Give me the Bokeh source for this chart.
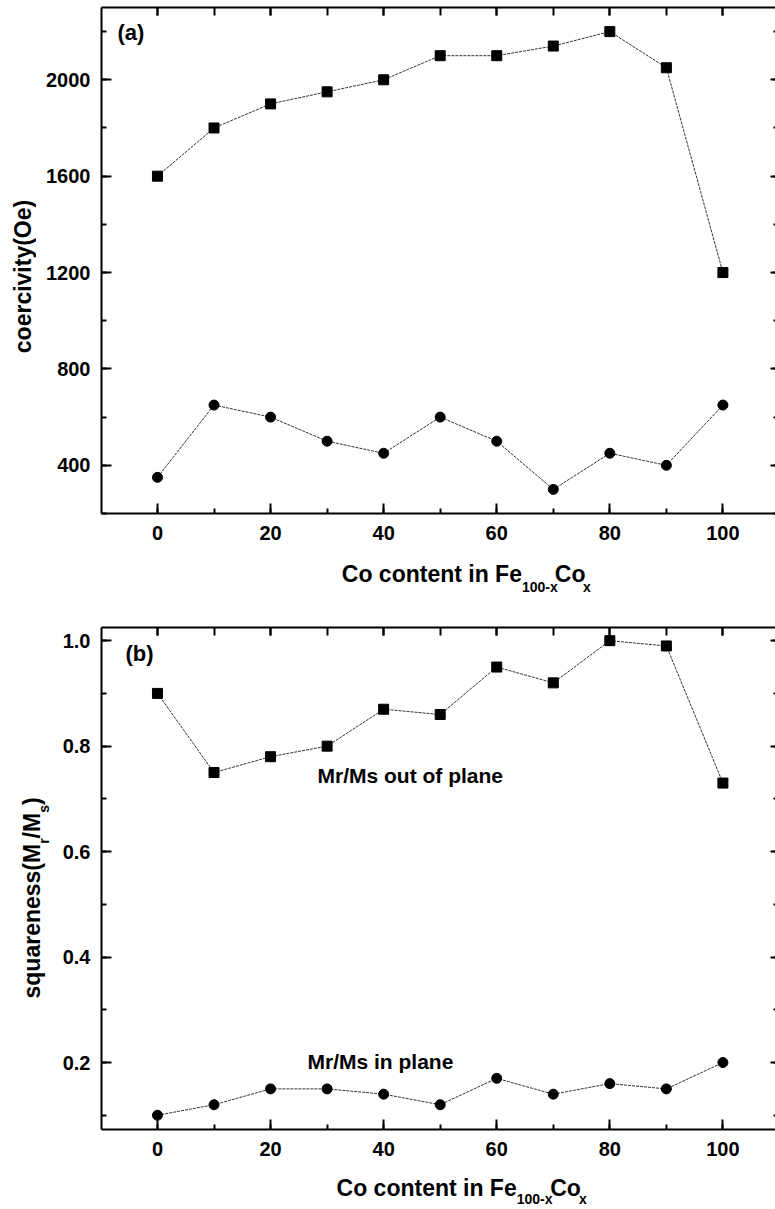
import math
from bokeh.plotting import figure
from bokeh.layouts import column, row
from bokeh.models import (LinearAxis, SingleIntervalTicker, Label, NumeralTickFormatter,
                          CustomJSTickFormatter, Range1d)
from bokeh.embed import file_html
from bokeh.resources import INLINE

# ---------------- data ----------------
co_content = [0, 10, 20, 30, 40, 50, 60, 70, 80, 90, 100]
coercivity_out = [1600, 1800, 1900, 1950, 2000, 2100, 2100, 2140, 2200, 2050, 1200]
coercivity_in = [350, 650, 600, 500, 450, 600, 500, 300, 450, 400, 650]
squareness_out = [0.90, 0.75, 0.78, 0.80, 0.87, 0.86, 0.95, 0.92, 1.00, 0.99, 0.73]
squareness_in = [0.10, 0.12, 0.15, 0.15, 0.14, 0.12, 0.17, 0.14, 0.16, 0.15, 0.20]

FONT = "Liberation Sans"
W = 775
X0, X1 = -9.9, 109.3
FL, FR = 101, 775  # frame left/right on the page (px)
MID = 0.35         # distance baseline -> text middle, in em


def px_to_x(px):
    return X0 + (px - FL) / (FR - FL) * (X1 - X0)


def style_axes(p, y_interval, fmt=None):
    p.xgrid.visible = False
    p.ygrid.visible = False
    p.outline_line_color = None
    p.background_fill_color = "white"
    p.border_fill_color = "white"
    xt = SingleIntervalTicker(interval=20, num_minor_ticks=2)
    yt = SingleIntervalTicker(interval=y_interval, num_minor_ticks=2)
    for ax in p.xaxis:
        ax.ticker = xt
    for ax in p.yaxis:
        ax.ticker = yt
        if fmt is not None:
            ax.formatter = fmt
    for ax in list(p.xaxis) + list(p.yaxis):
        ax.axis_line_width = 2
        ax.major_tick_line_width = 2
        ax.minor_tick_line_width = 2
        ax.major_tick_in = 10
        ax.major_tick_out = 0
        ax.minor_tick_in = 5
        ax.minor_tick_out = 0
        ax.major_label_text_font = FONT
        ax.major_label_text_font_style = "bold"
        ax.major_label_text_font_size = "20px"
        ax.major_label_text_color = "black"
    p.xaxis.major_label_standoff = 12
    p.yaxis.major_label_standoff = 11

    blank = CustomJSTickFormatter(code="return ''")
    top = LinearAxis(ticker=xt, formatter=blank, axis_line_width=2,
                     major_tick_line_width=2, minor_tick_line_width=2,
                     major_tick_in=8, major_tick_out=0, minor_tick_in=8, minor_tick_out=0,
                     major_label_standoff=0, major_label_text_font_size="1px")
    right = LinearAxis(ticker=yt, formatter=blank, axis_line_alpha=0,
                       major_tick_line_width=2, minor_tick_line_width=2,
                       major_tick_in=5, major_tick_out=0, minor_tick_in=2, minor_tick_out=0,
                       major_label_standoff=0, major_label_text_font_size="1px")
    p.add_layout(top, "above")
    p.add_layout(right, "right")


def add_label(p, x, y, text, size, angle=0.0, align="left"):
    p.add_layout(Label(x=x, y=y, text=text, angle=angle,
                       text_align=align, text_baseline="middle", text_font=FONT,
                       text_font_style="bold", text_font_size=f"{size}px",
                       text_color="black"))


def text_panel(w, h):
    """A blank figure whose frame is the whole canvas; data units = pixels (y up)."""
    f = figure(width=w, height=h, output_backend="svg", toolbar_location=None,
               x_range=Range1d(0, w), y_range=Range1d(0, h),
               x_axis_location=None, y_axis_location=None,
               min_border=0, min_border_left=0, min_border_right=0,
               min_border_top=0, min_border_bottom=0)
    f.xgrid.visible = False
    f.ygrid.visible = False
    f.outline_line_color = None
    f.background_fill_color = "white"
    f.border_fill_color = "white"
    return f


def x_label_panel(w, h, x_off, base_local, sub_local):
    """'Co content in Fe_{100-x}Co_x'; base/sub are baselines in local px from the top."""
    f = text_panel(w, h)
    yb = h - (base_local - MID * 23)
    ys = h - (sub_local - MID * 14)
    add_label(f, 497 - x_off, yb, "Co content in Fe", 23, align="right")
    add_label(f, 497 - x_off, ys, "100-x", 14)
    add_label(f, 533 - x_off, yb, "Co", 23)
    add_label(f, 564 - x_off, ys, "x", 14)
    return f


# ---------------- panel (a) ----------------
A_H = 605
YA0, YA1 = 200, 2300
A_TOP, A_BOT = 7, 513
YLA_W = 36               # width of the y-label strip
PA_H = 560               # height of the plot figure (rest is x-label strip)


def ay(py):
    return YA1 - (py - A_TOP) / (A_BOT - A_TOP) * (YA1 - YA0)


pa = figure(width=W - YLA_W, height=PA_H, output_backend="svg", toolbar_location=None,
            x_range=Range1d(X0, X1), y_range=Range1d(YA0, YA1),
            min_border_left=FL - YLA_W, min_border_right=0, min_border_top=A_TOP,
            min_border_bottom=PA_H - A_BOT)
style_axes(pa, 400)

pa.line(co_content, coercivity_out, line_color="#333333", line_width=1, line_dash="3 1")
pa.scatter(co_content, coercivity_out, marker="square", size=10, color="black")
pa.line(co_content, coercivity_in, line_color="#333333", line_width=1, line_dash="3 1")
pa.scatter(co_content, coercivity_in, marker="circle", size=10, color="black")
add_label(pa, px_to_x(117), ay(32), "(a)", 22)

yla = text_panel(YLA_W, A_H)
add_label(yla, 31 - MID * 23, A_H - 276, "coercivity(Oe)", 23, angle=math.pi / 2, align="center")

xla = x_label_panel(W - YLA_W, A_H - PA_H, YLA_W, 582 - PA_H, 591 - PA_H)

block_a = row(yla, column(pa, xla))

# ---------------- panel (b) ----------------
B_OFF = A_H
B_H = 1209 - A_H
YB0, YB1 = 0.073, 1.025
B_TOP, B_BOT = 627, 1129
YLB_W = 51
PB_H = 560


def by(py):
    return YB1 - (py - B_TOP) / (B_BOT - B_TOP) * (YB1 - YB0)


pb = figure(width=W - YLB_W, height=PB_H, output_backend="svg", toolbar_location=None,
            x_range=Range1d(X0, X1), y_range=Range1d(YB0, YB1),
            min_border_left=FL - YLB_W, min_border_right=0, min_border_top=B_TOP - B_OFF,
            min_border_bottom=PB_H - (B_BOT - B_OFF))
style_axes(pb, 0.2, NumeralTickFormatter(format="0.0"))

pb.line(co_content, squareness_out, line_color="#333333", line_width=1, line_dash="3 1")
pb.scatter(co_content, squareness_out, marker="square", size=10, color="black")
pb.line(co_content, squareness_in, line_color="#333333", line_width=1, line_dash="3 1")
pb.scatter(co_content, squareness_in, marker="circle", size=10, color="black")

add_label(pb, px_to_x(125), by(653), "(b)", 22)
add_label(pb, px_to_x(317), by(782 - MID * 21), "Mr/Ms out of plane", 21)
add_label(pb, px_to_x(307), by(1068 - MID * 21), "Mr/Ms in plane", 21)

# rotated y label "squareness(M_r/M_s)" built as a chain, reading bottom to top
ylb = text_panel(YLB_W, B_H)
R = math.pi / 2


def yb_local(py_abs):
    return B_H - (py_abs - B_OFF)


xm = 40 - MID * 23   # main text baseline at x=40
xs = 48 - MID * 14   # subscript baseline at x=48
add_label(ylb, xm, yb_local(998), "squareness(M", 23, angle=R)
add_label(ylb, xs, yb_local(843.3), "r", 14, angle=R)
add_label(ylb, xm, yb_local(837.9), "/M", 23, angle=R)
add_label(ylb, xs, yb_local(812.3), "s", 14, angle=R)
add_label(ylb, xm, yb_local(804.5), ")", 23, angle=R)

xlb = x_label_panel(W - YLB_W, B_H - PB_H, YLB_W, 1196 - B_OFF - PB_H, 1203 - B_OFF - PB_H)

block_b = row(ylb, column(pb, xlb))

layout = column(block_a, block_b)
open("out.html", "w").write(file_html(layout, INLINE))
